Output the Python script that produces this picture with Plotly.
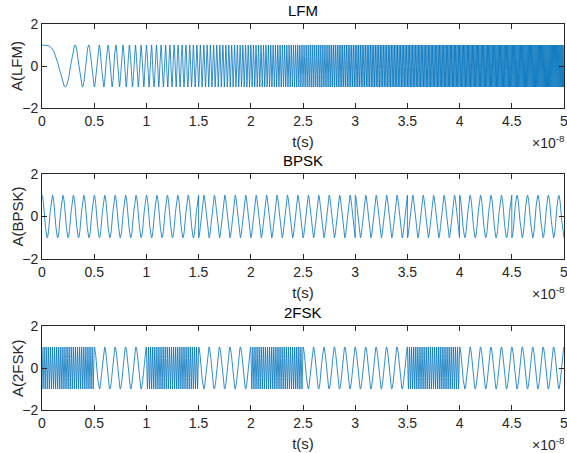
import numpy as np
import plotly.graph_objects as go

# ---- signal parameters ----
T_TOTAL = 5e-8                 # duration, s
N_SAMPLES = 20001
LFM_BANDWIDTH = 1e10           # Hz swept over T_TOTAL
BPSK_CARRIER = 1e9             # Hz
BPSK_CODE = [1, 1, 1, -1, -1, -1, 1, -1, 1, -1]   # chip signs, 0.5e-8 s each
FSK_BITS = [1, 0, 1, 0, 1, 0, 0, 1, 0, 0]          # 1 = high tone
FSK_F_HIGH = 5e9
FSK_F_LOW = 1e9

titles = ["LFM", "BPSK", "2FSK"]
ylabels = ["A(LFM)", "A(BPSK)", "A(2FSK)"]
x_tick_vals = [0, 0.5, 1, 1.5, 2, 2.5, 3, 3.5, 4, 4.5, 5]
x_tick_text = ["0", "0.5", "1", "1.5", "2", "2.5", "3", "3.5", "4", "4.5", "5"]
y_tick_vals = [-2, 0, 2]

t = np.linspace(0, T_TOTAL, N_SAMPLES)
k = LFM_BANDWIDTH / T_TOTAL
lfm = np.cos(np.pi * k * t ** 2)

chip_len = T_TOTAL / len(BPSK_CODE)
idx = np.minimum((t / chip_len).astype(int), len(BPSK_CODE) - 1)
bpsk = np.array(BPSK_CODE)[idx] * np.cos(2 * np.pi * BPSK_CARRIER * t)

bit_len = T_TOTAL / len(FSK_BITS)
bidx = np.minimum((t / bit_len).astype(int), len(FSK_BITS) - 1)
fsel = np.where(np.array(FSK_BITS)[bidx] == 1, FSK_F_HIGH, FSK_F_LOW)
fsk = np.cos(2 * np.pi * fsel * (t - bidx * bit_len))

signals = [lfm, bpsk, fsk]

W, H = 567, 453
x0, x1 = 42 / W, 564 / W
ydoms = [(24, 108), (174, 259), (326, 410)]

fig = go.Figure()
axcol = "#262626"
font_fam = "Liberation Sans, Arial, sans-serif"
for i, sig in enumerate(signals):
    n = "" if i == 0 else str(i + 1)
    fig.add_trace(go.Scatter(x=t * 1e8, y=sig, mode="lines",
                             line=dict(color="#0072BD", width=0.8),
                             xaxis="x" + n, yaxis="y" + n, showlegend=False,
                             hoverinfo="skip"))
    top, bot = ydoms[i]
    dom = [1 - bot / H, 1 - top / H]
    common = dict(showline=True, mirror="ticks", linecolor=axcol, linewidth=1,
                  ticks="inside", ticklen=5, tickcolor=axcol, tickwidth=1,
                  showgrid=False, zeroline=False, automargin=False,
                  ticklabeloverflow="allow",
                  tickfont=dict(family=font_fam, size=14, color=axcol))
    fig.update_layout(**{
        "xaxis" + n: dict(domain=[x0, x1], range=[0, 5], tickvals=x_tick_vals,
                          ticktext=x_tick_text, anchor="y" + n,
                          title=dict(text="t(s)", standoff=8,
                                     font=dict(family=font_fam, size=15, color=axcol)),
                          **common),
        "yaxis" + n: dict(domain=dom, range=[-2, 2], tickvals=y_tick_vals,
                          anchor="x" + n, **common),
    })
    fig.add_annotation(text=ylabels[i], xref="paper", yref="paper",
                       x=17 / W, y=1 - (top + bot) / 2 / H, textangle=-90,
                       xanchor="center", yanchor="middle", showarrow=False,
                       font=dict(family=font_fam, size=15, color=axcol))
    fig.add_annotation(text=titles[i], xref="paper", yref="paper",
                       x=(x0 + x1) / 2, y=1 - (top - 3) / H, xanchor="center",
                       yanchor="bottom", showarrow=False,
                       font=dict(family=font_fam, size=15, color="#000000"))
    fig.add_annotation(text="×10<sup>-8</sup>", xref="paper", yref="paper",
                       x=1.0, y=1 - (bot + 23) / H, xanchor="right",
                       yanchor="top", showarrow=False,
                       font=dict(family=font_fam, size=14, color=axcol))

fig.update_layout(width=W, height=H, margin=dict(l=0, r=0, t=0, b=0),
                  paper_bgcolor="white", plot_bgcolor="white")
fig.write_html("out.html")
